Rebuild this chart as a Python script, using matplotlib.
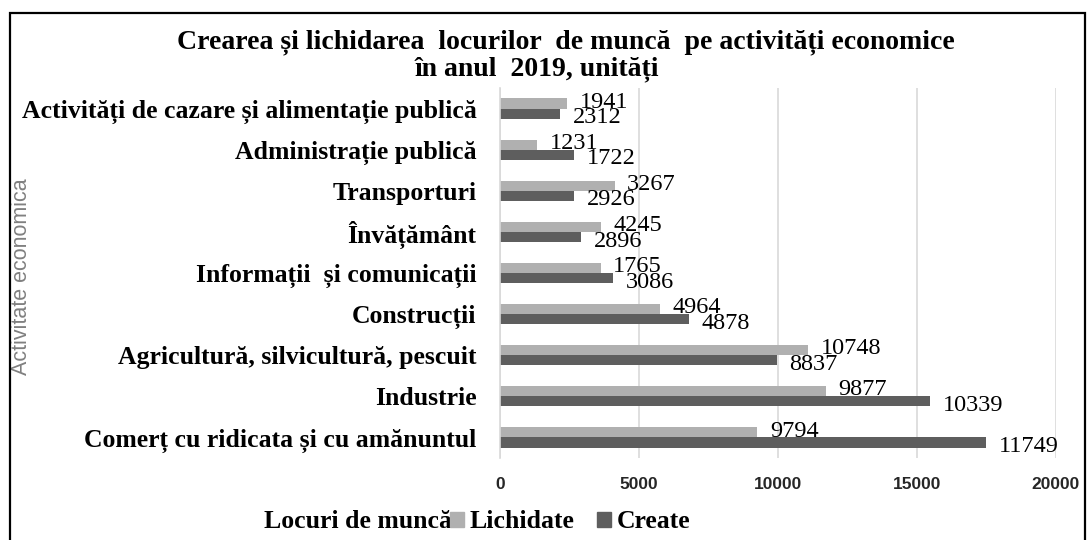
import matplotlib
matplotlib.use("Agg")
import matplotlib.pyplot as plt
from matplotlib.patches import Rectangle, Patch
import numpy as np

# Categories (top to bottom as shown)
categories = [
    "Activități de cazare și alimentație publică",
    "Administrație publică",
    "Transporturi",
    "Învățământ",
    "Informații  și comunicații",
    "Construcții",
    "Agricultură, silvicultură, pescuit",
    "Industrie",
    "Comerț cu ridicata și cu amănuntul",
]

# bar lengths as drawn in the picture
lichidate = [2420, 1340, 4125, 3620, 3620, 5770, 11090, 11730, 9260]
create = [2160, 2670, 2670, 2925, 4065, 6790, 9965, 15470, 17490]

# data labels as printed in the picture
lichidate_labels = ["1941", "1231", "3267", "4245", "1765", "4964", "10748", "9877", "9794"]
create_labels = ["2312", "1722", "2926", "2896", "3086", "4878", "8837", "10339", "11749"]

serif = "Liberation Serif"
c_lich = "#b0b0b0"
c_create = "#5e5e5e"

fig = plt.figure(figsize=(10.87, 5.40), dpi=100)
ax = fig.add_axes([500 / 1087, 1 - 458 / 540, 556 / 1087, 370 / 540])

y = np.arange(len(categories))
h = 0.245
ax.barh(y - h / 2, lichidate, height=h, color=c_lich, label="Lichidate", zorder=2)
ax.barh(y + h / 2, create, height=h, color=c_create, label="Create", zorder=2)

for i in range(len(categories)):
    ax.annotate(lichidate_labels[i], xy=(lichidate[i], y[i] - h / 2), xytext=(9, 1),
                textcoords="offset points", va="center", ha="left",
                fontfamily=serif, fontsize=17.5, color="black")
    ax.annotate(create_labels[i], xy=(create[i], y[i] + h / 2), xytext=(9, -3),
                textcoords="offset points", va="center", ha="left",
                fontfamily=serif, fontsize=17.5, color="black")

ax.set_ylim(len(categories) - 0.5, -0.5)
ax.set_xlim(0, 20000)
ax.set_xticks([0, 5000, 10000, 15000, 20000])
ax.set_yticks(y)
ax.set_yticklabels(categories, fontfamily=serif, fontsize=18.5, fontweight="bold")
ax.tick_params(axis="y", length=0, pad=17)
ax.tick_params(axis="x", length=0, pad=14, labelsize=12.5, labelcolor="#262626")
for lab in ax.get_xticklabels():
    lab.set_fontweight("bold")
    lab.set_fontfamily("Liberation Sans")

ax.grid(axis="x", color="#d9d9d9", linewidth=1.2, zorder=0)
for s in ["top", "right", "bottom"]:
    ax.spines[s].set_visible(False)
ax.spines["left"].set_color("#d9d9d9")
ax.spines["left"].set_linewidth(1.2)

ax.set_ylabel("Activitate economica", fontsize=15.5, color="#808080",
              fontfamily="Liberation Sans")
ax.yaxis.set_label_coords(-468 / 556, 0.49)

fig.text(566 / 1087, 1 - 42 / 540, "Crearea și lichidarea  locurilor  de muncă  pe activități economice",
         ha="center", va="center", fontfamily=serif, fontsize=20, fontweight="bold")
fig.text(537 / 1087, 1 - 69 / 540, "în anul  2019, unități",
         ha="center", va="center", fontfamily=serif, fontsize=20, fontweight="bold")

# legend
fig.text(452 / 1087, 1 - 522 / 540, "Locuri de muncă", ha="right", va="center",
         fontfamily=serif, fontsize=18.5, fontweight="bold")
handles = [Patch(color=c_lich), Patch(color=c_create)]
fig.legend(handles, ["Lichidate", "Create"], loc="center left",
           bbox_to_anchor=(450 / 1087, 1 - 522 / 540), ncol=2, frameon=False,
           prop={"family": serif, "size": 18.5, "weight": "bold"},
           handlelength=0.55, handleheight=0.55, handletextpad=0.2, columnspacing=0.9,
           borderpad=0, borderaxespad=0)

# chart border
fig.patches.append(Rectangle((10 / 1087, -0.1), 1075 / 1087, 1.1 - 13 / 540,
                             transform=fig.transFigure, fill=False,
                             edgecolor="black", linewidth=1.6))

fig.savefig("out.png", dpi=100)
